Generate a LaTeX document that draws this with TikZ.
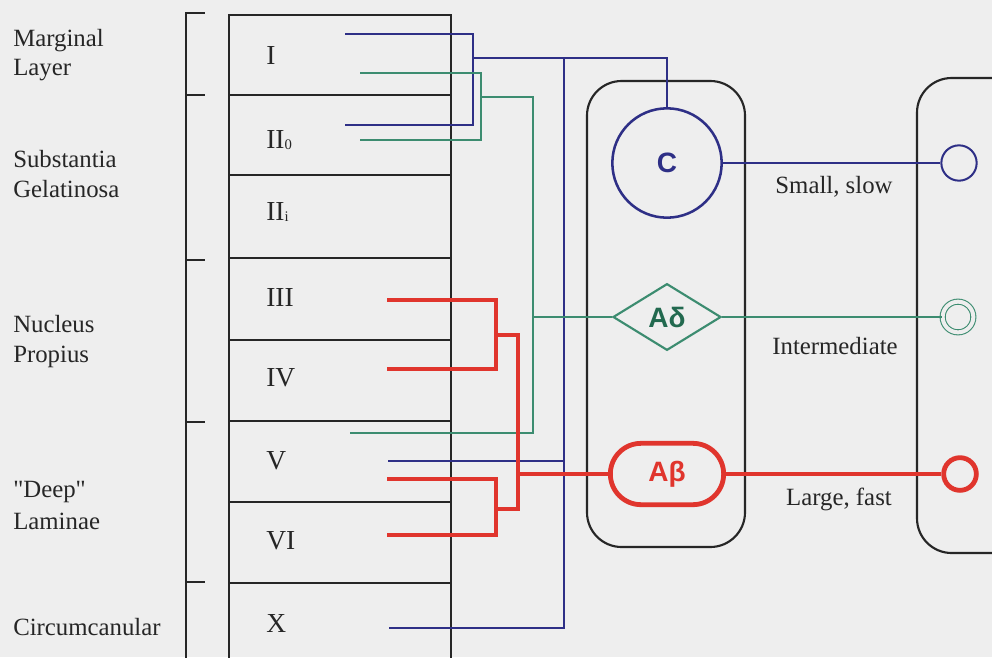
\documentclass[tikz,border=0pt]{standalone}
\usepackage{fontspec}
\setmainfont{Liberation Serif}
\setsansfont{Liberation Sans}
\newfontfamily\plainrm{Liberation Serif}[Ligatures=ResetAll]
\usetikzlibrary{shapes.geometric,shapes.misc}
\definecolor{bgc}{HTML}{EEEEEE}
\definecolor{cblue}{HTML}{2E2F86}
\definecolor{cgreen}{HTML}{3C8C70}
\definecolor{cgtext}{HTML}{22694F}
\definecolor{cred}{HTML}{E0352D}
\definecolor{cink}{HTML}{262626}
\begin{document}
\begin{tikzpicture}[x=0.75pt,y=-0.75pt,
  blk/.style={draw=cink,line width=1.6pt},
  bl/.style={draw=cblue,line width=1.6pt},
  gr/.style={draw=cgreen,line width=1.5pt},
  rd/.style={draw=cred,line width=3.6pt},
  lab/.style={font=\fontsize{18.6}{22}\selectfont,anchor=base west,inner sep=0pt,text=cink},
  captxt/.style={font=\fontsize{18.6}{22}\selectfont,anchor=base,inner sep=0pt,text=cink},
  num/.style={font=\fontsize{20.6}{24}\selectfont,anchor=base west,inner sep=0pt,text=cink},
  fib/.style={font=\sffamily\bfseries\fontsize{21}{24}\selectfont,inner sep=0pt}
]
\fill[bgc] (0,0) rectangle (992,657);
\clip (0,0) rectangle (992,657);

% bracket
\draw[blk] (186,670) -- (186,13) -- (205,13);
\foreach \yy in {95,260,422,582} \draw[blk] (186,\yy) -- (205,\yy);

% layer box
\draw[blk] (229,670) -- (229,15) -- (451,15) -- (451,670);
\foreach \yy in {95,175,258,340,421,502,583} \draw[blk] (229,\yy) -- (451,\yy);

% left labels
\node[lab] (l1a) at (13,46) {Marginal};
\node[lab] (l1b) at (13,75) {Layer};
\node[lab] (l2a) at (13,167) {Substantia};
\node[lab] (l2b) at (13,197) {Gelatinosa};
\node[lab] (l3a) at (13,332) {Nucleus};
\node[lab] (l3b) at (13,362) {Propius};
\node[lab] (l4a) at (13,497) {{\plainrm "Deep"}};
\node[lab] (l4b) at (13,529) {Laminae};
\node[lab] (l5) at (13,635) {Circumcanular};

% layer numerals
\node[num] (nI) at (266,64) {I};
\node[num] (nIIo) at (266,148) {II\raisebox{-1pt}{\fontsize{11}{12}\selectfont 0}};
\node[num] (nIIi) at (266,220) {II\raisebox{-1pt}{\fontsize{11}{12}\selectfont i}};
\node[num] (nIII) at (266,306) {III};
\node[num] (nIV) at (266,386) {IV};
\node[num] (nV) at (266,469) {V};
\node[num] (nVI) at (266,549) {VI};
\node[num] (nX) at (266,632) {X};

% rounded boxes
\draw[blk,rounded corners=26pt] (587,81) rectangle (745,547);
\draw[blk,rounded corners=26pt] (917,78) rectangle (1040,553);

% fibre nodes
\node[fib,circle,draw=cblue,line width=1.9pt,minimum size=82pt,text=cblue] (C) at (667,163) {C};
\node[fib,diamond,draw=cgreen,line width=1.6pt,minimum width=81pt,minimum height=50pt,text=cgtext] (Ad) at (667,317) {Aδ};
\node[fib,rounded rectangle,draw=cred,line width=3.6pt,minimum width=85pt,minimum height=46pt,text=cred] (Ab) at (667,474) {Aβ};

% right terminals
\node[circle,draw=cblue,line width=1.5pt,minimum size=26.5pt,inner sep=0pt] (ts) at (959,163) {};
\node[circle,draw=cgreen,line width=0.8pt,double=bgc,double distance=3pt,minimum size=23pt,inner sep=0pt] (ti) at (958,317) {};
\node[circle,draw=cred,line width=3.6pt,minimum size=24.5pt,inner sep=0pt] (tl) at (960,474) {};

\draw[bl] (C.east) -- (ts.west);
\draw[gr] (Ad.east) -- (ti.west);
\draw[rd] (Ab.east) -- (tl.west);

% captions
\node[captxt] (cs) at (834,193) {Small, slow};
\node[captxt] (ci) at (835,354) {Intermediate};
\node[captxt] (cl) at (839,505) {Large, fast};

% blue tree
\coordinate (b1) at (345,34);
\coordinate (b2) at (345,125);
\coordinate (b3) at (388,461);
\coordinate (b4) at (389,628);
\draw[bl] (b1) -- (473,34) -- (473,125) -- (b2);
\draw[bl] (473,58) -| (C.north);
\draw[bl] (564,58) -- (564,628) -- (b4);
\draw[bl] (b3) -- (564,461);

% green tree
\coordinate (g1) at (360,73);
\coordinate (g2) at (360,140);
\coordinate (g3) at (350,433);
\coordinate (gx) at (533,97);
\draw[gr] (g1) -- (481,73) -- (481,140) -- (g2);
\draw[gr] (481,97) -- (gx) -- (533,433) -- (g3);
\draw[gr] (gx |- Ad.west) -- (Ad.west);

% red tree
\coordinate (r1) at (387,300);
\coordinate (r2) at (387,369);
\coordinate (r3) at (387,479);
\coordinate (r4) at (387,535);
\draw[rd] (r1) -- (496,300) -- (496,369) -- (r2);
\draw[rd] (r3) -- (496,479) -- (496,535) -- (r4);
\draw[rd] (496,335) -- (518,335) -- (518,509) -- (496,509);
\draw[rd] (518,474) -- (Ab.west);
\end{tikzpicture}
\end{document}
